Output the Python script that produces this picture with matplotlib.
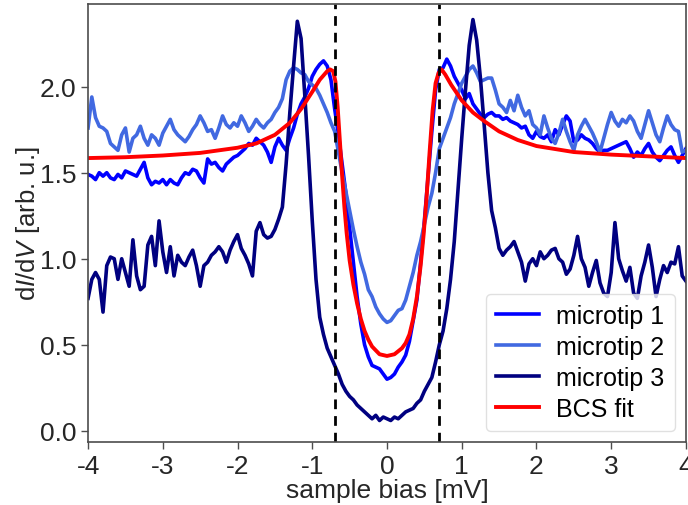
import numpy as np
import matplotlib
matplotlib.use("Agg")
import matplotlib.pyplot as plt

plt.rcParams.update({
    "font.family": ["Liberation Sans", "DejaVu Sans"],
    "mathtext.fontset": "custom",
    "mathtext.rm": "Liberation Sans",
    "mathtext.it": "Liberation Sans:italic",
    "axes.unicode_minus": False,
})

# Bias sweep (mV), 0.05 mV steps from -4 to 4
bias = np.linspace(-4.0, 4.0, 161)

tip1 = [
    1.49, 1.48, 1.46, 1.50, 1.48, 1.50, 1.47, 1.46, 1.49, 1.47, 1.51, 1.50, 1.49, 1.48, 1.52, 1.56, 1.47, 1.43, 1.45, 1.44,
    1.46, 1.43, 1.46, 1.44, 1.43, 1.47, 1.50, 1.49, 1.52, 1.51, 1.47, 1.44, 1.58, 1.55, 1.56, 1.53, 1.51, 1.55, 1.57, 1.59,
    1.60, 1.62, 1.64, 1.67, 1.66, 1.70, 1.68, 1.66, 1.62, 1.56, 1.65, 1.70, 1.66, 1.63, 1.70, 1.76, 1.84, 1.90, 1.94, 1.99,
    2.06, 2.10, 2.13, 2.15, 2.12, 2.04, 1.87, 1.72, 1.55, 1.38, 1.18, 0.98, 0.78, 0.62, 0.50, 0.43, 0.38, 0.37, 0.36, 0.33,
    0.30, 0.31, 0.33, 0.37, 0.40, 0.44, 0.52, 0.64, 0.76, 0.98, 1.22, 1.48, 1.74, 1.98, 2.10, 2.11, 2.16, 2.12, 2.06, 2.02,
    1.98, 1.93, 1.96, 1.90, 1.87, 1.84, 1.82, 1.84, 1.85, 1.83, 1.83, 1.81, 1.82, 1.80, 1.79, 1.78, 1.76, 1.77, 1.72, 1.70,
    1.74, 1.71, 1.70, 1.72, 1.68, 1.75, 1.72, 1.78, 1.83, 1.80, 1.68, 1.69, 1.72, 1.70, 1.69, 1.67, 1.64, 1.62, 1.63, 1.63,
    1.64, 1.65, 1.66, 1.67, 1.68, 1.64, 1.59, 1.62, 1.60, 1.64, 1.67, 1.62, 1.59, 1.57, 1.60, 1.63, 1.65, 1.60, 1.56, 1.60,
    1.64,
]

tip2 = [
    1.76, 1.94, 1.82, 1.77, 1.76, 1.74, 1.67, 1.65, 1.63, 1.72, 1.76, 1.62, 1.70, 1.72, 1.77, 1.70, 1.66, 1.72, 1.70, 1.66,
    1.73, 1.77, 1.81, 1.75, 1.72, 1.70, 1.68, 1.71, 1.75, 1.78, 1.83, 1.79, 1.74, 1.75, 1.70, 1.76, 1.83, 1.78, 1.76, 1.79,
    1.77, 1.83, 1.79, 1.74, 1.77, 1.81, 1.78, 1.76, 1.79, 1.81, 1.85, 1.88, 1.93, 2.04, 2.09, 2.11, 2.10, 2.08, 2.07, 2.03,
    2.01, 1.99, 1.95, 1.90, 1.85, 1.79, 1.74, 1.62, 1.50, 1.39, 1.28, 1.17, 1.07, 0.98, 0.91, 0.82, 0.78, 0.72, 0.68, 0.65,
    0.63, 0.64, 0.67, 0.70, 0.71, 0.76, 0.84, 0.92, 1.02, 1.10, 1.20, 1.30, 1.38, 1.50, 1.64, 1.70, 1.76, 1.82, 1.90, 1.96,
    2.02, 2.06, 2.10, 2.12, 2.08, 2.03, 2.04, 2.05, 2.05, 1.98, 1.90, 1.88, 1.85, 1.92, 1.86, 1.95, 1.88, 1.83, 1.86, 1.78,
    1.76, 1.72, 1.83, 1.76, 1.70, 1.67, 1.73, 1.81, 1.74, 1.68, 1.63, 1.72, 1.77, 1.81, 1.77, 1.73, 1.68, 1.62, 1.70, 1.78,
    1.85, 1.80, 1.77, 1.81, 1.79, 1.83, 1.80, 1.74, 1.70, 1.78, 1.86, 1.79, 1.72, 1.68, 1.76, 1.83, 1.78, 1.75, 1.74, 1.62,
    1.63,
]

tip3 = [
    0.77, 0.88, 0.92, 0.88, 0.69, 0.96, 1.01, 1.00, 0.88, 1.00, 0.92, 0.84, 1.11, 0.90, 0.82, 0.84, 1.08, 1.13, 0.96, 1.22,
    1.04, 0.92, 1.07, 0.90, 1.02, 0.98, 0.96, 1.01, 1.05, 0.96, 0.84, 0.96, 0.98, 1.02, 1.04, 1.07, 1.04, 0.98, 1.05, 1.10,
    1.14, 1.06, 1.02, 0.97, 0.90, 1.16, 1.21, 1.14, 1.12, 1.13, 1.17, 1.23, 1.30, 1.55, 1.85, 2.12, 2.38, 2.28, 1.95, 1.60,
    1.22, 0.88, 0.66, 0.56, 0.48, 0.43, 0.38, 0.33, 0.27, 0.23, 0.20, 0.18, 0.15, 0.13, 0.11, 0.09, 0.07, 0.09, 0.06, 0.08,
    0.07, 0.06, 0.08, 0.07, 0.09, 0.11, 0.12, 0.13, 0.16, 0.18, 0.23, 0.27, 0.31, 0.40, 0.50, 0.58, 0.71, 0.88, 1.10, 1.40,
    1.70, 1.98, 2.24, 2.39, 2.27, 2.05, 1.78, 1.50, 1.28, 1.18, 1.06, 1.02, 1.05, 1.07, 1.10, 1.04, 0.98, 0.87, 0.97, 1.00,
    0.96, 1.04, 1.00, 1.02, 1.05, 1.06, 1.00, 0.98, 0.91, 0.94, 1.02, 1.13, 1.00, 0.95, 0.84, 0.92, 0.99, 0.86, 0.80, 0.78,
    0.92, 1.21, 1.00, 0.93, 0.87, 0.95, 0.80, 0.77, 0.90, 0.98, 1.08, 0.95, 0.78, 0.88, 0.96, 0.92, 0.98, 0.97, 1.07, 0.90,
    0.87,
]

# BCS fit curve, sampled more densely around the coherence peaks
fit_bias = [
    -4.0, -3.5, -3.0, -2.5, -2.0, -1.75, -1.5, -1.3, -1.15, -1.0, -0.9, -0.8, -0.76, -0.72, -0.69,
    -0.66, -0.63, -0.60, -0.57, -0.54, -0.50, -0.45, -0.40, -0.35, -0.30, -0.25, -0.20, -0.10, 0.0,
    0.10, 0.20, 0.25, 0.30, 0.35, 0.40, 0.45, 0.49, 0.53, 0.57, 0.61, 0.65, 0.69, 0.73, 0.78,
    0.86, 1.0, 1.15, 1.3, 1.5, 1.75, 2.0, 2.5, 3.0, 3.5, 4.0,
]
fit_vals = [
    1.585, 1.59, 1.60, 1.615, 1.645, 1.67, 1.72, 1.79, 1.87, 1.97, 2.04, 2.09, 2.10, 2.09, 2.03,
    1.88, 1.68, 1.48, 1.30, 1.15, 0.99, 0.85, 0.74, 0.65, 0.58, 0.53, 0.49, 0.445, 0.435,
    0.445, 0.48, 0.51, 0.56, 0.65, 0.78, 0.96, 1.14, 1.36, 1.62, 1.86, 2.02, 2.08, 2.10, 2.07,
    2.01, 1.92, 1.85, 1.80, 1.74, 1.69, 1.655, 1.62, 1.605, 1.595, 1.585,
]

gap_edges = [-0.69, 0.69]

fig = plt.figure(figsize=(6.88, 5.06), dpi=100)
ax = fig.add_axes([0.128, 0.1245, 0.869, 0.8655])

ax.plot(bias, tip1, color="blue", lw=2.6, label="microtip 1")
ax.plot(bias, tip2, color="royalblue", lw=2.6, label="microtip 2")
ax.plot(bias, tip3, color="navy", lw=2.6, label="microtip 3")
ax.plot(fit_bias, fit_vals, color="red", lw=2.8, label="BCS fit")
for xe in gap_edges:
    ax.axvline(xe, color="black", ls="--", lw=2.0, dashes=(3.5, 2.5))

ax.set_xlim(-4, 4)
ax.set_ylim(-0.065, 2.48)
ax.set_xticks(np.arange(-4, 5, 1))
ax.set_yticks([0.0, 0.5, 1.0, 1.5, 2.0])
ax.set_xticklabels([str(v) for v in range(-4, 5)])

for s in ax.spines.values():
    s.set_color("0.3")
    s.set_linewidth(1.2)
ax.tick_params(axis="both", colors="0.3", labelcolor="0.15", labelsize=19,
               length=5, width=1.0, direction="out")

ax.set_xlabel("sample bias [mV]", fontsize=19, color="0.15", labelpad=0)
ax.set_ylabel("d$I$/d$V$ [arb. u.]", fontsize=18.5, color="0.15", labelpad=-2)

leg = ax.legend(loc="lower right", fontsize=18, frameon=True, fancybox=True,
                borderaxespad=0.45, handlelength=1.7, handletextpad=0.7,
                labelspacing=0.28)
leg.get_frame().set_edgecolor("0.85")

fig.savefig("out.png", dpi=100)
